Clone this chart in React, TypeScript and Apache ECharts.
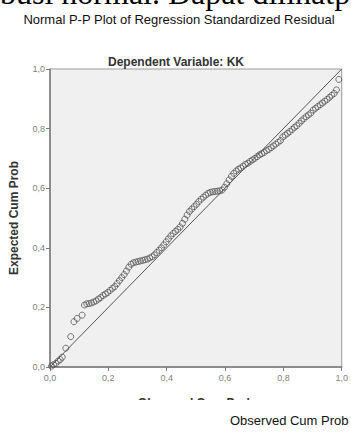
import React, { useEffect, useRef } from "react";
import * as echarts from "echarts";

const titleText = "Normal P-P Plot of Regression Standardized Residual";
const subtitleText = "Dependent Variable: KK";
const yAxisName = "Expected Cum Prob";
const xAxisName = "Observed Cum Prob";
const topCutText = "busi normal. Dapat dilihatp";
const tickValues = [0, 0.2, 0.4, 0.6, 0.8, 1.0];

const observed = [
  0.005, 0.012, 0.02, 0.028, 0.035, 0.042, 0.054, 0.071,
  0.082, 0.093, 0.11,
  0.118, 0.126, 0.134, 0.142, 0.15, 0.158,
  0.166, 0.174, 0.182, 0.19, 0.198, 0.206, 0.214, 0.222, 0.23, 0.238, 0.246, 0.254, 0.262, 0.27, 0.278,
  0.286, 0.294, 0.302, 0.31, 0.318, 0.326, 0.334, 0.342, 0.35,
  0.358, 0.366, 0.374, 0.382, 0.39, 0.398, 0.406, 0.414, 0.422, 0.43, 0.438,
  0.446, 0.454, 0.462, 0.47, 0.478,
  0.486, 0.494, 0.502, 0.51, 0.518, 0.526, 0.534, 0.542,
  0.55, 0.558, 0.566, 0.574, 0.582, 0.59,
  0.598, 0.606, 0.614, 0.622, 0.63,
  0.638, 0.646, 0.654, 0.662, 0.67, 0.678, 0.686, 0.694,
  0.702, 0.71, 0.718, 0.726, 0.734, 0.742, 0.75, 0.758, 0.766, 0.774, 0.782, 0.79,
  0.798, 0.806, 0.814, 0.822, 0.83, 0.838, 0.846, 0.854, 0.862, 0.87, 0.878, 0.886, 0.894,
  0.902, 0.91, 0.918, 0.926, 0.934, 0.942, 0.95, 0.958, 0.966, 0.974, 0.982, 0.99,
];

const expected = [
  0.003, 0.008, 0.012, 0.02, 0.025, 0.033, 0.063, 0.102,
  0.152, 0.163, 0.174,
  0.208, 0.212, 0.213, 0.215, 0.218, 0.222,
  0.228, 0.233, 0.24, 0.245, 0.25, 0.257, 0.264, 0.27, 0.28, 0.29, 0.3, 0.31, 0.322, 0.335, 0.345,
  0.35, 0.352, 0.354, 0.356, 0.358, 0.36, 0.362, 0.366, 0.37,
  0.376, 0.384, 0.392, 0.4, 0.41, 0.42, 0.43, 0.44, 0.448, 0.455, 0.462,
  0.47, 0.482, 0.496, 0.51, 0.522,
  0.53, 0.538, 0.546, 0.555, 0.563, 0.57, 0.577, 0.583,
  0.586, 0.588, 0.589, 0.59, 0.591, 0.594,
  0.603, 0.615, 0.628, 0.64, 0.65,
  0.658, 0.664, 0.668, 0.674, 0.68, 0.684, 0.69, 0.695,
  0.7, 0.706, 0.712, 0.716, 0.72, 0.726, 0.73, 0.736, 0.742, 0.748, 0.754, 0.76,
  0.772, 0.778, 0.784, 0.79, 0.797, 0.804, 0.81, 0.818, 0.826, 0.833, 0.84, 0.846, 0.852,
  0.862, 0.868, 0.874, 0.88, 0.886, 0.892, 0.898, 0.905, 0.912, 0.918, 0.93, 0.965,
];

const referenceLine = [
  [0, 0],
  [1, 1],
];

const fmt = (v: number) => v.toFixed(1).replace(".", ",");

export default function App() {
  const ref = useRef<HTMLDivElement>(null);
  useEffect(() => {
    if (!ref.current) return;
    const chart = echarts.init(ref.current, undefined, { renderer: "svg" });
    const points = observed.map((x, i) => [x, expected[i]]);
    const axisCommon = {
      type: "value" as const,
      min: 0,
      max: 1,
      interval: 0.2,
      splitLine: { show: false },
      axisLine: { show: true, lineStyle: { color: "#7a7a7a", width: 1.5 } },
      axisTick: { show: true, length: 4, lineStyle: { color: "#7a7a7a" } },
      axisLabel: {
        formatter: (v: number) => (tickValues.some((t) => Math.abs(t - v) < 1e-6) ? fmt(v) : ""),
        color: "#808080",
        fontSize: 9,
        fontFamily: "Liberation Sans",
      },
      nameLocation: "middle" as const,
      nameTextStyle: {
        color: "#333",
        fontSize: 12,
        fontWeight: "bold" as const,
        fontFamily: "Liberation Sans",
      },
    };
    chart.setOption({
      animation: false,
      backgroundColor: "#ffffff",
      grid: {
        left: 47,
        top: 69,
        right: 3,
        bottom: 67,
        show: true,
        backgroundColor: "#f0f0f0",
        borderColor: "#9a9a9a",
        borderWidth: 1,
      },
      xAxis: {
        ...axisCommon,
        name: xAxisName,
        nameGap: 30,
        axisLabel: { ...axisCommon.axisLabel, margin: 6 },
      },
      yAxis: {
        ...axisCommon,
        name: yAxisName,
        nameGap: 30,
        nameRotate: 90,
        axisLabel: { ...axisCommon.axisLabel, margin: 5 },
      },
      series: [
        {
          type: "line",
          data: referenceLine,
          symbol: "none",
          lineStyle: { color: "#555", width: 1 },
          z: 2,
        },
        {
          type: "scatter",
          data: points,
          symbol: "circle",
          symbolSize: 6,
          itemStyle: { color: "rgba(0,0,0,0)", borderColor: "#555", borderWidth: 1 },
          z: 3,
        },
      ],
      graphic: [
        {
          type: "text",
          x: 0,
          y: -7,
          style: {
            text: topCutText,
            font: '32px "Liberation Serif"',
            fill: "#000",
            align: "left",
            verticalAlign: "middle",
          },
        },
        {
          type: "text",
          x: 179,
          y: 19,
          style: {
            text: titleText,
            font: '13px "Liberation Sans"',
            fill: "#111",
            align: "center",
            verticalAlign: "middle",
          },
        },
        {
          type: "text",
          x: 176,
          y: 62,
          style: {
            text: subtitleText,
            font: 'bold 12px "Liberation Sans"',
            fill: "#333",
            align: "center",
            verticalAlign: "middle",
          },
        },
        {
          type: "rect",
          shape: { x: 0, y: 400, width: 351, height: 34 },
          style: { fill: "#ffffff" },
          z: 100,
        },
        {
          type: "text",
          x: 230,
          y: 420,
          z: 101,
          style: {
            text: xAxisName,
            font: '13px "Liberation Sans"',
            fill: "#111",
            align: "left",
            verticalAlign: "middle",
          },
        },
      ],
    });
    return () => chart.dispose();
  }, []);
  return <div ref={ref} style={{ width: 351, height: 434, position: "fixed", left: 0, top: 0 }} />;
}
